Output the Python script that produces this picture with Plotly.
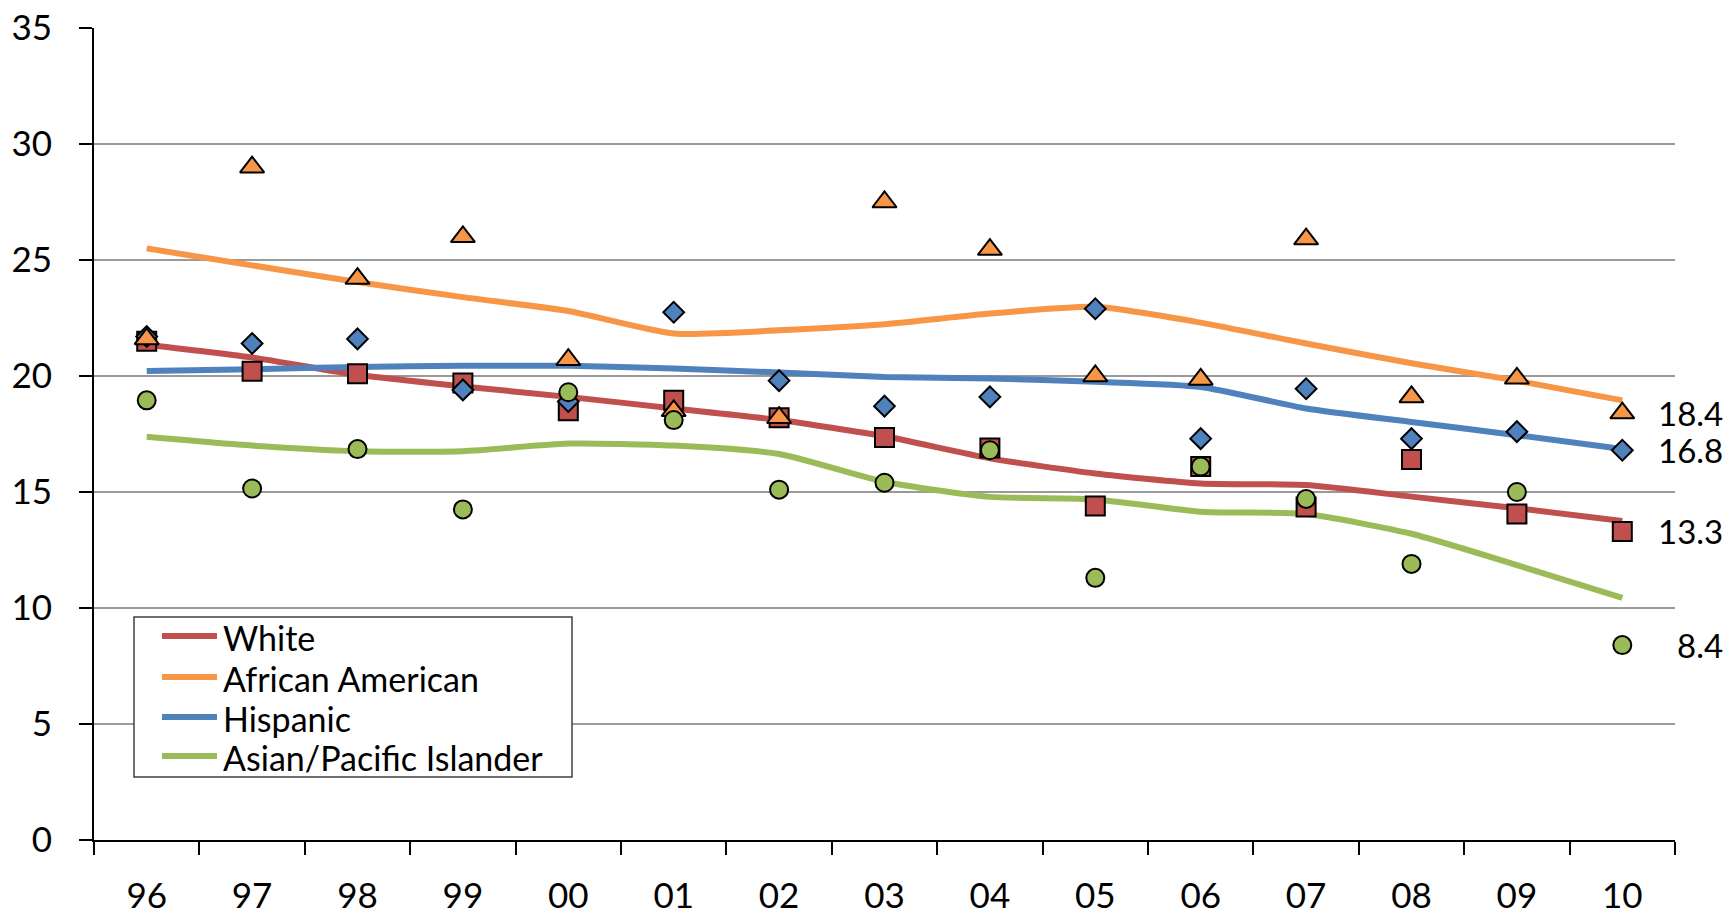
import plotly.graph_objects as go

years = ["96", "97", "98", "99", "00", "01", "02", "03", "04", "05", "06", "07", "08", "09", "10"]

# Observed rates (markers)
white_pts = [21.5, 20.2, 20.1, 19.7, 18.5, 18.95, 18.2, 17.35, 16.9, 14.4, 16.1, 14.35, 16.4, 14.05, 13.3]
afam_pts = [21.6, 29.0, 24.2, 26.0, 20.7, 18.5, 18.2, 27.5, 25.45, 20.0, 19.85, 25.9, 19.1, 19.9, 18.4]
hisp_pts = [21.7, 21.4, 21.6, 19.4, 18.9, 22.75, 19.8, 18.7, 19.1, 22.9, 17.3, 19.45, 17.3, 17.6, 16.8]
asian_pts = [18.95, 15.15, 16.85, 14.25, 19.3, 18.1, 15.1, 15.4, 16.8, 11.3, 16.1, 14.7, 11.9, 15.0, 8.4]

# Smoothed trend lines
white_line = [21.35, 20.8, 20.05, 19.55, 19.1, 18.6, 18.1, 17.4, 16.45, 15.8, 15.37, 15.3, 14.8, 14.3, 13.75]
afam_line = [25.5, 24.77, 24.05, 23.4, 22.8, 21.83, 21.97, 22.23, 22.69, 22.98, 22.3, 21.4, 20.55, 19.8, 18.95]
hisp_line = [20.22, 20.29, 20.39, 20.44, 20.44, 20.32, 20.15, 19.96, 19.89, 19.75, 19.53, 18.6, 18.02, 17.45, 16.85]
asian_line = [17.38, 17.0, 16.76, 16.76, 17.09, 17.0, 16.64, 15.44, 14.79, 14.68, 14.15, 14.05, 13.2, 11.85, 10.44]

names = ["White", "African American", "Hispanic", "Asian/Pacific Islander"]
colors = ["#C0504D", "#F79646", "#4F81BD", "#9BBB59"]
symbols = ["square", "triangle-up", "diamond", "circle"]
msizes = [19, 21, 16, 18]

lines = [white_line, afam_line, hisp_line, asian_line]
points = [white_pts, afam_pts, hisp_pts, asian_pts]

FONT = "Lato"
W, H = 1729, 914
ML, MR, MT, MB = 94, 54, 28, 74
PW, PH = W - ML - MR, H - MT - MB


def px(xp):
    return (xp - ML) / PW


def py(yp):
    return (H - MB - yp) / PH


fig = go.Figure()
for name, col, ln in zip(names, colors, lines):
    fig.add_trace(go.Scatter(
        x=years, y=ln, mode="lines", name=name, showlegend=False,
        line=dict(color=col, width=6, shape="spline", smoothing=0.6),
        hoverinfo="skip",
    ))

# marker draw order: squares, diamonds, triangles, circles
order = [0, 2, 1, 3]
for i in order:
    fig.add_trace(go.Scatter(
        x=years, y=points[i], mode="markers", showlegend=False,
        marker=dict(symbol=symbols[i], size=msizes[i], color=colors[i],
                    line=dict(color="black", width=2)),
        hoverinfo="skip",
    ))

# end-of-series value labels
last_idx = len(years) - 1
for pts in points:
    fig.add_annotation(
        x=last_idx, y=pts[-1], xref="x", yref="y",
        text=f"{pts[-1]}", showarrow=False, height=30,
        xanchor="right", yanchor="middle", xshift=103,
        font=dict(family=FONT, size=33, color="black"),
    )

# legend box (drawn to match the reference layout)
fig.add_shape(type="rect", xref="paper", yref="paper",
              x0=px(134), x1=px(572), y0=py(617), y1=py(777),
              line=dict(color="#404040", width=1.5), fillcolor="white", layer="above")
rows = [636, 677, 717, 756]
for name, col, ry in zip(names, colors, rows):
    fig.add_shape(type="line", xref="paper", yref="paper",
                  x0=px(162), x1=px(217), y0=py(ry), y1=py(ry),
                  line=dict(color=col, width=6), layer="above")
    fig.add_annotation(xref="paper", yref="paper", x=px(221), y=py(ry + 1),
                       text=name, showarrow=False, xanchor="left", yanchor="middle",
                       font=dict(family=FONT, size=34, color="black"))

fig.update_layout(
    width=W, height=H,
    margin=dict(l=ML, r=MR, t=MT, b=MB),
    paper_bgcolor="white", plot_bgcolor="white",
    font=dict(family=FONT, size=35, color="black"),
    showlegend=False,
)

fig.update_xaxes(
    type="category", range=[-0.5, 14.5], automargin=False,
    showline=True, linecolor="black", linewidth=2,
    ticks="outside", tickson="boundaries", ticklen=13, tickwidth=2, tickcolor="black",
    showgrid=False, zeroline=False,
    tickfont=dict(family=FONT, size=35, color="black"),
    ticklabelstandoff=24,
)
fig.update_yaxes(
    range=[0, 35], dtick=5, tick0=0, automargin=False,
    showline=True, linecolor="black", linewidth=2,
    ticks="outside", ticklen=13, tickwidth=2, tickcolor="black",
    showgrid=True, gridcolor="#9a9a9a", gridwidth=1.5, zeroline=False,
    tickfont=dict(family=FONT, size=35, color="black"),
    ticklabelstandoff=20,
)

fig.write_html("out.html", config={"displayModeBar": False},
               post_script="document.body.style.margin='0';")
